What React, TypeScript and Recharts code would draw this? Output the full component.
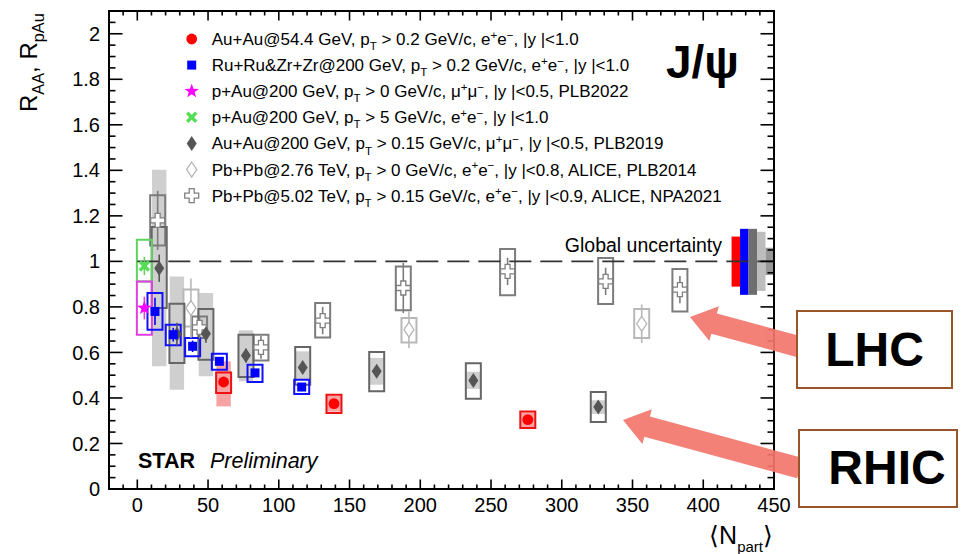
import React from 'react';
import { ScatterChart, Scatter, XAxis, YAxis, ReferenceArea, ReferenceLine, ErrorBar } from 'recharts';

const FONT = '"Liberation Sans", Arial, Helvetica, sans-serif';
const W = 961;
const H = 554;
const MARGIN = { top: 11, right: 187, bottom: 0, left: 0 };
const Y_AXIS_W = 109;
const X_AXIS_H = 65;
const X_DOMAIN: [number, number] = [-20, 450];
const Y_DOMAIN: [number, number] = [0, 2.1];
const PX_PER_X = (W - MARGIN.left - MARGIN.right - Y_AXIS_W) / (X_DOMAIN[1] - X_DOMAIN[0]);
const PX_PER_Y = (H - MARGIN.top - MARGIN.bottom - X_AXIS_H) / (Y_DOMAIN[1] - Y_DOMAIN[0]);

// ---- axis ticks ----
const xTicks = [0, 50, 100, 150, 200, 250, 300, 350, 400, 450];
const yTicks = [0, 0.2, 0.4, 0.6, 0.8, 1, 1.2, 1.4, 1.6, 1.8, 2];
const xMinorTicks: number[] = [];
for (let v = -20; v <= 450; v += 10) if (v % 50 !== 0) xMinorTicks.push(v);
const yMinorTicks: number[] = [];
for (let k = 0; k <= 42; k++) if (k % 4 !== 0) yMinorTicks.push(+(k * 0.05).toFixed(2));

// ---- Au+Au @ 54.4 GeV (red) ----
const au54N = [61, 139, 276];
const au54R = [0.47, 0.375, 0.305];
const au54Stat = [0.015, 0.012, 0.01];
const au54SysLo = [0.422, 0.334, 0.268];
const au54SysHi = [0.512, 0.414, 0.341];
const au54BandLo = [0.363, 0.34, 0.272];
const au54BandHi = [0.561, 0.41, 0.337];

// ---- Ru+Ru & Zr+Zr @ 200 GeV (blue) ----
const ruN = [12.5, 25.4, 39.1, 58, 83.2, 116.2];
const ruR = [0.78, 0.678, 0.627, 0.561, 0.51, 0.448];
const ruStat = [0.06, 0.03, 0.025, 0.015, 0.012, 0.01];
const ruSysLo = [0.7, 0.631, 0.583, 0.524, 0.47, 0.417];
const ruSysHi = [0.861, 0.722, 0.663, 0.594, 0.546, 0.48];

// ---- p+Au @ 200 GeV, mu+mu- (magenta) ----
const pAuMuN = [5];
const pAuMuR = [0.795];
const pAuMuStat = [0.05];
const pAuMuSysLo = [0.678];
const pAuMuSysHi = [0.912];

// ---- p+Au @ 200 GeV, pT > 5 (green) ----
const pAuHiN = [5];
const pAuHiR = [0.98];
const pAuHiStat = [0.04];
const pAuHiSysLo = [0.912];
const pAuHiSysHi = [1.095];

// ---- Au+Au @ 200 GeV PLB2019 (dark grey diamonds) ----
const au200N = [15.5, 28, 48.5, 76.8, 116.9, 169.2, 237.5, 325.8];
const au200R = [0.97, 0.68, 0.682, 0.586, 0.534, 0.517, 0.477, 0.36];
const au200Stat = [0.06, 0.05, 0.04, 0.03, 0.025, 0.02, 0.02, 0.015];
const au200SysLo = [0.795, 0.554, 0.568, 0.492, 0.458, 0.429, 0.397, 0.294];
const au200SysHi = [1.151, 0.814, 0.791, 0.678, 0.624, 0.602, 0.553, 0.426];
const au200BandLo = [0.539, 0.436, 0.495, 0.473, 0.48, 0.458, 0.44, 0.33];
const au200BandHi = [1.403, 0.934, 0.861, 0.697, 0.605, 0.576, 0.515, 0.39];

// ---- Pb+Pb @ 2.76 TeV (light grey open diamonds) ----
const pb276N = [37.9, 192, 356.5];
const pb276R = [0.795, 0.7, 0.726];
const pb276Stat = [0.13, 0.08, 0.085];
const pb276SysLo = [0.714, 0.644, 0.663];
const pb276SysHi = [0.876, 0.751, 0.791];

// ---- Pb+Pb @ 5.02 TeV (grey open crosses) ----
const pb502N = [14.4, 44, 87.4, 131, 188, 261.7, 331, 383.5];
const pb502R = [1.18, 0.71, 0.622, 0.74, 0.883, 0.956, 0.912, 0.876];
const pb502Stat = [0.13, 0.05, 0.05, 0.06, 0.11, 0.06, 0.06, 0.06];
const pb502SysLo = [1.07, 0.663, 0.565, 0.666, 0.785, 0.851, 0.813, 0.78];
const pb502SysHi = [1.29, 0.758, 0.678, 0.817, 0.978, 1.054, 1.015, 0.967];

// ---- global uncertainties (red, blue, dark grey, light grey, mid grey) ----
const globalLo = [0.889, 0.853, 0.853, 0.87, 0.94];
const globalHi = [1.109, 1.143, 1.143, 1.13, 1.06];
const globalColors = ['#ff0000', '#0000ff', '#6e6e6e', '#bdbdbd', '#979797'];

// ---- legend labels: [text, 0 normal | 1 sub | 2 sup] ----
type Seg = [string, number];
const legendLabels: Seg[][] = [
  [['Au+Au@54.4 GeV, p', 0], ['T', 1], [' > 0.2 GeV/c, e', 0], ['+', 2], ['e', 0], ['\u2212', 2], [', |y |<1.0', 0]],
  [['Ru+Ru&Zr+Zr@200 GeV, p', 0], ['T', 1], [' > 0.2 GeV/c, e', 0], ['+', 2], ['e', 0], ['\u2212', 2], [', |y |<1.0', 0]],
  [['p+Au@200 GeV, p', 0], ['T', 1], [' > 0 GeV/c, \u03bc', 0], ['+', 2], ['\u03bc', 0], ['\u2212', 2], [', |y |<0.5, PLB2022', 0]],
  [['p+Au@200 GeV, p', 0], ['T', 1], [' > 5 GeV/c, e', 0], ['+', 2], ['e', 0], ['\u2212', 2], [', |y |<1.0', 0]],
  [['Au+Au@200 GeV, p', 0], ['T', 1], [' > 0.15 GeV/c, \u03bc', 0], ['+', 2], ['\u03bc', 0], ['\u2212', 2], [', |y |<0.5, PLB2019', 0]],
  [['Pb+Pb@2.76 TeV, p', 0], ['T', 1], [' > 0 GeV/c, e', 0], ['+', 2], ['e', 0], ['\u2212', 2], [', |y |<0.8, ALICE, PLB2014', 0]],
  [['Pb+Pb@5.02 TeV, p', 0], ['T', 1], [' > 0.15 GeV/c, e', 0], ['+', 2], ['e', 0], ['\u2212', 2], [', |y |<0.9, ALICE, NPA2021', 0]],
];
const legendMarkers = ['circle', 'square', 'star', 'x', 'diamond', 'odiamond', 'ocross'];
const TITLE = 'J/\u03c8';

type Pt = { x: number; y: number; err: number; lo: number; hi: number; bLo?: number; bHi?: number };
const build = (N: number[], R: number[], st: number[], lo: number[], hi: number[], bLo?: number[], bHi?: number[]): Pt[] =>
  N.map((x, i) => ({ x, y: R[i], err: st[i], lo: lo[i], hi: hi[i], bLo: bLo ? bLo[i] : undefined, bHi: bHi ? bHi[i] : undefined }));

const BOX_HW = 7.5 / PX_PER_X;
const BAND_HW = 7.2 / PX_PER_X;

const series = [
  { key: 'pb276', data: build(pb276N, pb276R, pb276Stat, pb276SysLo, pb276SysHi), marker: 'odiamond', box: '#b8b8b8', err: '#b8b8b8', band: '' },
  { key: 'pb502', data: build(pb502N, pb502R, pb502Stat, pb502SysLo, pb502SysHi), marker: 'ocross', box: '#7c7c7c', err: '#7c7c7c', band: '' },
  { key: 'au200', data: build(au200N, au200R, au200Stat, au200SysLo, au200SysHi, au200BandLo, au200BandHi), marker: 'diamond', box: '#666666', err: '#555555', band: '#cfcfcf' },
  { key: 'pAuHi', data: build(pAuHiN, pAuHiR, pAuHiStat, pAuHiSysLo, pAuHiSysHi), marker: 'x', box: '#5fd35f', err: '#5fd35f', band: '' },
  { key: 'pAuMu', data: build(pAuMuN, pAuMuR, pAuMuStat, pAuMuSysLo, pAuMuSysHi), marker: 'star', box: '#e040e0', err: '#e040e0', band: '' },
  { key: 'ru', data: build(ruN, ruR, ruStat, ruSysLo, ruSysHi), marker: 'square', box: '#1010ff', err: '#0000ff', band: '' },
  { key: 'au54', data: build(au54N, au54R, au54Stat, au54SysLo, au54SysHi, au54BandLo, au54BandHi), marker: 'circle', box: '#ee1111', err: '#ff0000', band: '#f7a3a3' },
];

function marker(kind: string, cx: number, cy: number) {
  switch (kind) {
    case 'circle':
      return <circle cx={cx} cy={cy} r={5.4} fill="#ff0000" />;
    case 'square':
      return <rect x={cx - 4.5} y={cy - 4.5} width={9} height={9} fill="#0000ff" />;
    case 'star': {
      const pts: string[] = [];
      for (let k = 0; k < 10; k++) {
        const r = k % 2 === 0 ? 7.5 : 3.1;
        const a = -Math.PI / 2 + (k * Math.PI) / 5;
        pts.push(`${cx + r * Math.cos(a)},${cy + r * Math.sin(a)}`);
      }
      return <polygon points={pts.join(' ')} fill="#ff00ff" />;
    }
    case 'x':
      return (
        <g stroke="#55dd55" strokeWidth={3.4}>
          <line x1={cx - 4.5} y1={cy - 4.5} x2={cx + 4.5} y2={cy + 4.5} />
          <line x1={cx - 4.5} y1={cy + 4.5} x2={cx + 4.5} y2={cy - 4.5} />
        </g>
      );
    case 'diamond':
      return <polygon points={`${cx},${cy - 7.5} ${cx + 5},${cy} ${cx},${cy + 7.5} ${cx - 5},${cy}`} fill="#555555" />;
    case 'odiamond':
      return <polygon points={`${cx},${cy - 7.5} ${cx + 5},${cy} ${cx},${cy + 7.5} ${cx - 5},${cy}`} fill="#ffffff" stroke="#b4b4b4" strokeWidth={1.3} />;
    case 'ocross': {
      const a = 2.5;
      const L = 7;
      const p = [[-a, -L], [a, -L], [a, -a], [L, -a], [L, a], [a, a], [a, L], [-a, L], [-a, a], [-L, a], [-L, -a], [-a, -a]];
      return <polygon points={p.map(([dx, dy]) => `${cx + dx},${cy + dy}`).join(' ')} fill="#ffffff" stroke="#808080" strokeWidth={1.3} />;
    }
    default:
      return <g />;
  }
}

function Rich({ x, y, segs, size, anchor, transform, subScale = 0.68 }: { x: number; y: number; segs: Seg[]; size: number; anchor?: string; transform?: string; subScale?: number }) {
  let shift = 0;
  const kids = segs.map(([t, k], i) => {
    const target = k === 1 ? size * 0.3 : k === 2 ? -size * 0.38 : 0;
    const dy = target - shift;
    shift = target;
    return (
      <tspan key={i} dy={dy} fontSize={k ? size * subScale : size}>
        {t}
      </tspan>
    );
  });
  return (
    <text x={x} y={y} fontFamily={FONT} fontSize={size} textAnchor={anchor as any} transform={transform} fill="#000">
      {kids}
    </text>
  );
}

function arrowPoints(tx: number, ty: number, ex: number, ey: number, shaft: number, headLen: number, headHalf: number) {
  const len = Math.hypot(ex - tx, ey - ty);
  const dx = (ex - tx) / len;
  const dy = (ey - ty) / len;
  const nx = -dy;
  const ny = dx;
  const bx = tx + dx * headLen;
  const by = ty + dy * headLen;
  const pts = [
    [tx, ty],
    [bx + nx * headHalf, by + ny * headHalf],
    [bx + nx * shaft, by + ny * shaft],
    [ex + nx * shaft, ey + ny * shaft],
    [ex - nx * shaft, ey - ny * shaft],
    [bx - nx * shaft, by - ny * shaft],
    [bx - nx * headHalf, by - ny * headHalf],
  ];
  return pts.map(([a, b]) => `${a},${b}`).join(' ');
}

const X_TICK_MAJ = 9.5 / PX_PER_Y;
const X_TICK_MIN = 4.5 / PX_PER_Y;
const Y_TICK_MAJ = 13.5 / PX_PER_X;
const Y_TICK_MIN = 6.5 / PX_PER_X;
const GLOBAL_X0 = 420;
const GLOBAL_W = 6;

export default function App() {
  const tickSegs: React.ReactNode[] = [];
  const addSeg = (k: string, x1: number, y1: number, x2: number, y2: number) =>
    tickSegs.push(<ReferenceLine key={k} segment={[{ x: x1, y: y1 }, { x: x2, y: y2 }]} stroke="#000" strokeWidth={1.6} ifOverflow="visible" />);
  xTicks.forEach((v) => {
    addSeg(`xb${v}`, v, Y_DOMAIN[0], v, Y_DOMAIN[0] + X_TICK_MAJ);
    addSeg(`xt${v}`, v, Y_DOMAIN[1], v, Y_DOMAIN[1] - X_TICK_MAJ);
  });
  xMinorTicks.forEach((v) => {
    addSeg(`xbm${v}`, v, Y_DOMAIN[0], v, Y_DOMAIN[0] + X_TICK_MIN);
    addSeg(`xtm${v}`, v, Y_DOMAIN[1], v, Y_DOMAIN[1] - X_TICK_MIN);
  });
  yTicks.forEach((v) => {
    addSeg(`yl${v}`, X_DOMAIN[0], v, X_DOMAIN[0] + Y_TICK_MAJ, v);
    addSeg(`yr${v}`, X_DOMAIN[1], v, X_DOMAIN[1] - Y_TICK_MAJ, v);
  });
  yMinorTicks.forEach((v) => {
    addSeg(`ylm${v}`, X_DOMAIN[0], v, X_DOMAIN[0] + Y_TICK_MIN, v);
    addSeg(`yrm${v}`, X_DOMAIN[1], v, X_DOMAIN[1] - Y_TICK_MIN, v);
  });

  const bands: React.ReactNode[] = [];
  const boxes: React.ReactNode[] = [];
  series.forEach((s) => {
    s.data.forEach((p, i) => {
      if (s.band && p.bLo !== undefined && p.bHi !== undefined) {
        bands.push(
          <ReferenceArea key={`b-${s.key}-${i}`} x1={p.x - BAND_HW} x2={p.x + BAND_HW} y1={p.bLo} y2={p.bHi} fill={s.band} fillOpacity={1} stroke="none" ifOverflow="visible" />
        );
      }
      boxes.push(
        <ReferenceArea key={`s-${s.key}-${i}`} x1={p.x - BOX_HW} x2={p.x + BOX_HW} y1={p.lo} y2={p.hi} fill="none" stroke={s.box} strokeWidth={2} ifOverflow="visible" />
      );
    });
  });

  const globals = globalLo.map((lo, i) => (
    <ReferenceArea key={`g${i}`} x1={GLOBAL_X0 + i * GLOBAL_W} x2={Math.min(X_DOMAIN[1], GLOBAL_X0 + (i + 1) * GLOBAL_W)} y1={lo} y2={globalHi[i]} fill={globalColors[i]} fillOpacity={1} stroke="none" ifOverflow="visible" />
  ));

  return (
    <div style={{ position: 'absolute', left: 0, top: 0, width: W, height: H, background: '#fff' }}>
      <ScatterChart width={W} height={H} margin={MARGIN}>
        <XAxis
          type="number"
          dataKey="x"
          domain={X_DOMAIN}
          ticks={xTicks}
          interval={0}
          allowDataOverflow
          height={X_AXIS_H}
          tickSize={0}
          tickMargin={9}
          tickLine={false}
          axisLine={false}
          tick={{ fontSize: 20, fill: '#000', fontFamily: FONT }}
        />
        <YAxis
          type="number"
          dataKey="y"
          domain={Y_DOMAIN}
          ticks={yTicks}
          interval={0}
          allowDataOverflow
          width={Y_AXIS_W}
          tickSize={0}
          tickMargin={9}
          tickLine={false}
          axisLine={false}
          tick={{ fontSize: 20, fill: '#000', fontFamily: FONT }}
        />
        {bands}
        {globals}
        {boxes}
        <ReferenceLine segment={[{ x: 0, y: 1 }, { x: X_DOMAIN[1], y: 1 }]} stroke="#333" strokeWidth={1.6} strokeDasharray="22 9" ifOverflow="visible" />
        {series.map((s) => (
          <Scatter key={s.key} data={s.data} dataKey="y" isAnimationActive={false} shape={(p: any) => marker(s.marker, p.cx, p.cy)}>
            <ErrorBar dataKey="err" direction="y" width={0} stroke={s.err} strokeWidth={1.6} isAnimationActive={false} />
          </Scatter>
        ))}
        {tickSegs}
        <ReferenceArea x1={X_DOMAIN[0]} x2={X_DOMAIN[1]} y1={Y_DOMAIN[0]} y2={Y_DOMAIN[1]} fill="none" stroke="#000" strokeWidth={2} ifOverflow="visible" />
      </ScatterChart>
      <svg width={W} height={H} style={{ position: 'absolute', left: 0, top: 0, pointerEvents: 'none' }}>
        {legendLabels.map((segs, i) => (
          <g key={i}>
            {marker(legendMarkers[i], 191.7, 39 + 26.1 * i)}
            <Rich x={211.7} y={45 + 26.1 * i} segs={segs} size={17} />
          </g>
        ))}
        <text x={666} y={78} fontFamily={FONT} fontSize={46} fontWeight="bold" fill="#000">
          {TITLE}
        </text>
        <text x={722} y={252} textAnchor="end" fontFamily={FONT} fontSize={19.5} fill="#000">
          Global uncertainty
        </text>
        <text x={138} y={468} fontFamily={FONT} fill="#000">
          <tspan fontWeight="bold" fontSize={21.5}>STAR</tspan>
          <tspan x={210} fontStyle="italic" fontSize={21.5}>Preliminary</tspan>
        </text>
        <Rich x={37} y={112} transform="rotate(-90 37 112)" size={24} segs={[['R', 0], ['AA', 1], [', R', 0], ['pAu', 1]]} />
        <Rich x={773} y={544} anchor="end" size={25} subScale={0.6} segs={[['\u27e8N', 0], ['part', 1], ['\u27e9', 0]]} />
        <polygon points={arrowPoints(690, 317, 800, 347, 10.5, 25, 18)} fill="#f2766b" fillOpacity={0.92} />
        <polygon points={arrowPoints(623, 420, 800, 468.2, 10.5, 25, 18)} fill="#f2766b" fillOpacity={0.92} />
        <rect x={797} y={311} width={155} height={77} fill="#fff" stroke="#98552a" strokeWidth={2} />
        <text x={874.5} y={366} textAnchor="middle" fontFamily={FONT} fontSize={48} fontWeight="bold" fill="#000">
          LHC
        </text>
        <rect x={799} y={430} width={158} height={77} fill="#fff" stroke="#98552a" strokeWidth={2} />
        <text x={887} y={484} textAnchor="middle" fontFamily={FONT} fontSize={48} fontWeight="bold" fill="#000">
          RHIC
        </text>
      </svg>
    </div>
  );
}
